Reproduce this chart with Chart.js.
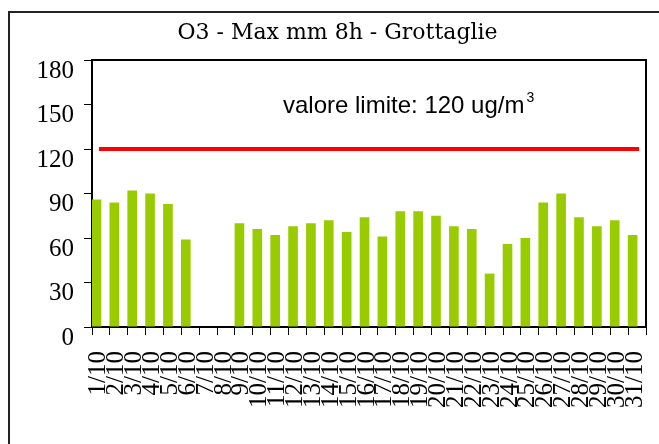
<!DOCTYPE html>
<html>
<head>
<meta charset="utf-8">
<script src="https://cdn.jsdelivr.net/npm/chart.js@4.4.1/dist/chart.umd.min.js"></script>
<style>
  html, body { margin: 0; padding: 0; background: #fff; overflow: hidden; }
  #wrap { position: relative; width: 675px; height: 444px; }
  #frame {
    position: absolute; left: 8px; top: 11px; width: 720px; height: 520px;
    border-left: 2px solid #222; border-top: 2px solid #222;
  }
  #o3Chart { position: absolute; left: 0; top: 0; }
</style>
</head>
<body>
<div id="wrap">
  <div id="frame"></div>
  <canvas id="o3Chart" width="675" height="444"></canvas>
</div>
<script>
const chartTitle = 'O3 - Max mm 8h - Grottaglie';
const limitText = 'valore limite: 120 ug/m';

const days = ['1/10', '2/10', '3/10', '4/10', '5/10', '6/10', '7/10', '8/10', '9/10', '10/10',
  '11/10', '12/10', '13/10', '14/10', '15/10', '16/10', '17/10', '18/10', '19/10', '20/10',
  '21/10', '22/10', '23/10', '24/10', '25/10', '26/10', '27/10', '28/10', '29/10', '30/10', '31/10'];

// daily maximum of the 8h moving mean, ug/m3
const o3Max8h = [86, 84, 92, 90, 83, 59, 0, 0, 70, 66,
  62, 68, 70, 72, 64, 74, 61, 78, 78, 75,
  68, 66, 36, 56, 60, 84, 90, 74, 68, 72, 62];

const limitValue = 120;
const yMin = 0;
const yMax = 180;
const yStep = 30;

const tickFont = { family: '"Liberation Serif", "Times New Roman", serif', size: 25 };

// plot frame, title and the limit caption
const decorations = {
  id: 'decorations',
  afterDraw(chart) {
    const { ctx, chartArea: a } = chart;
    ctx.save();
    ctx.strokeStyle = '#000';
    ctx.lineWidth = 2;
    ctx.beginPath();
    ctx.moveTo(a.left, a.top);
    ctx.lineTo(a.right, a.top);
    ctx.lineTo(a.right, a.bottom);
    ctx.stroke();

    ctx.fillStyle = '#000';
    ctx.textBaseline = 'alphabetic';
    ctx.font = '22px "DejaVu Serif"';
    ctx.textAlign = 'center';
    ctx.fillText(chartTitle, chart.width / 2, 39);

    ctx.textAlign = 'left';
    ctx.font = '24px "Liberation Sans"';
    const x0 = a.left + 191;
    ctx.fillText(limitText, x0, 113);
    const w = ctx.measureText(limitText).width;
    ctx.font = '14px "Liberation Sans"';
    ctx.fillText('3', x0 + w + 2, 102);
    ctx.restore();
  }
};

new Chart(document.getElementById('o3Chart'), {
  data: {
    labels: days,
    datasets: [
      {
        type: 'line',
        data: [{ x: days[0], y: limitValue }, { x: days[days.length - 1], y: limitValue }],
        borderColor: '#ff0000',
        borderWidth: 4,
        borderCapStyle: 'square',
        pointRadius: 0
      },
      {
        type: 'bar',
        data: o3Max8h,
        stack: 'o3',
        backgroundColor: '#99cc00',
        categoryPercentage: 1,
        barPercentage: 1.08
      },
      {
        // empty group: keeps each bar on the left half of its day slot
        type: 'bar',
        data: [],
        stack: 'spacer',
        categoryPercentage: 1,
        barPercentage: 1.08
      }
    ]
  },
  options: {
    responsive: false,
    animation: false,
    layout: { padding: { top: 60, right: 29, bottom: 0, left: 0 } },
    plugins: {
      legend: { display: false },
      tooltip: { enabled: false },
      title: { display: false }
    },
    scales: {
      x: {
        offset: true,
        grid: { drawOnChartArea: false, drawTicks: true, tickLength: 8, color: '#000', lineWidth: 1, offset: true },
        border: { display: true, color: '#000', width: 2 },
        ticks: {
          autoSkip: false, minRotation: 90, maxRotation: 90,
          padding: 16, labelOffset: -2, color: '#000', font: tickFont
        },
        afterFit(scale) {
          scale.height = 117;
          // rotated labels would otherwise pull the plot edges inwards
          scale.paddingLeft = 0;
          scale.paddingRight = 0;
        }
      },
      y: {
        min: yMin,
        max: yMax,
        grid: { drawOnChartArea: false, drawTicks: true, tickLength: 8, color: '#000', lineWidth: 1 },
        border: { display: true, color: '#000', width: 2 },
        ticks: { stepSize: yStep, padding: 10, labelOffset: 11, color: '#000', font: tickFont },
        afterFit(scale) {
          scale.width = 92;
          scale.paddingTop = 0;
          scale.paddingBottom = 0;
        }
      }
    }
  },
  plugins: [decorations]
});
</script>
</body>
</html>
